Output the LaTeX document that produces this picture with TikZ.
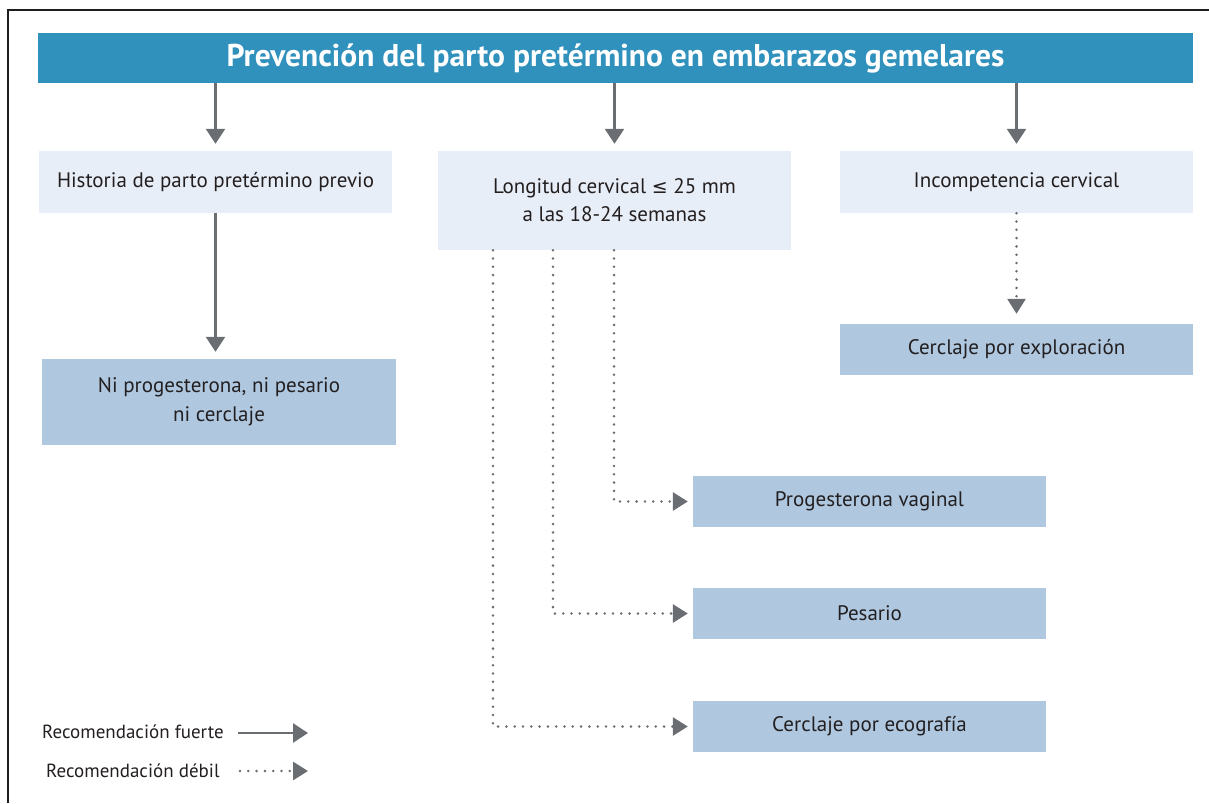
\documentclass[tikz,border=0pt]{standalone}
\usepackage{fontspec}
\setmainfont{PT Sans}
\newfontfamily\symbolfont{DejaVu Sans}
\usetikzlibrary{arrows.meta,positioning}
\usepackage{xcolor}
\definecolor{titleblue}{HTML}{2F91BC}
\definecolor{boxlight}{HTML}{E8EEF7}
\definecolor{boxdark}{HTML}{AFC8E0}
\definecolor{arrowgray}{HTML}{6A6D71}
\definecolor{textdark}{HTML}{231F20}
\definecolor{framedark}{HTML}{1E1E1E}

\begin{document}
\begin{tikzpicture}[x=1pt,y=-1pt]
                \tikzstyle{header} = [fill=titleblue, text=white, font=\fontsize{31.5}{36}\selectfont\bfseries, minimum width=1155pt, minimum height=50pt, inner sep=0pt];
                \tikzstyle{condition} = [fill=boxlight, text=textdark, font=\fontsize{21}{28}\selectfont, minimum width=353pt, align=center, inner sep=0pt];
                \tikzstyle{treatment} = [fill=boxdark, text=textdark, font=\fontsize{21}{29}\selectfont, minimum width=353pt, minimum height=51pt, align=center, inner sep=0pt];
                \tikzstyle{keytext} = [text=textdark, font=\fontsize{19}{22}\selectfont, inner sep=0pt, anchor=west];
                \tikzstyle{strongarrow} = [-{Triangle[length=15pt,width=19pt]}, line width=2.6pt, color=arrowgray];
                \tikzstyle{weakarrow} = [-{Triangle[length=15pt,width=18pt]}, line width=2.8pt, color=arrowgray, line cap=round, dash pattern=on 0pt off 8.3pt];

                \useasboundingbox (0,0) rectangle (1209,803);
                \draw[line width=1.5pt, color=framedark] (8,803) -- (8,10) -- (1209,10);

                \node[header](title) at (615.5,58) {Prevención del parto pretérmino en embarazos gemelares};

                \node[condition, minimum height=62pt](hist) at (215.5,182) {Historia de parto pretérmino previo};
                \node[condition, minimum height=99pt](long) at (614.5,200.5) {Longitud cervical {\symbolfont\fontsize{19}{28}\selectfont ≤} 25 mm\\a las 18-24 semanas};
                \node[condition, minimum height=62pt](incomp) at (1016.5,182) {Incompetencia cervical};

                \node[treatment, minimum width=354pt, minimum height=86pt](ni) at (219,402) {Ni progesterona, ni pesario\\ni cerclaje};
                \node[treatment](cerexp) at (1016.5,349.5) {Cerclaje por exploración};
                \node[treatment](prog) at (869.5,501.5) {Progesterona vaginal};
                \node[treatment](pes) at (869.5,613.5) {Pesario};
                \node[treatment](cereco) at (869.5,726.5) {Cerclaje por ecografía};

                \node[keytext](strongkey) at (42,732) {Recomendación fuerte};
                \node[keytext](weakkey) at (46,771) {Recomendación débil};
                \coordinate (strongfrom) at (238,733);
                \coordinate (strongto) at (308,733);
                \coordinate (weakfrom) at (240,771);
                \coordinate (weakto) at (308,771);

                \draw[strongarrow, shorten >=7pt] (title.south -| hist) -- (hist.north);
                \draw[strongarrow, shorten >=7pt] (title.south -| long) -- (long.north);
                \draw[strongarrow, shorten >=7pt] (title.south -| incomp) -- (incomp.north);
                \draw[strongarrow, shorten >=7pt] (hist.south) -- (hist.south |- ni.north);

                \draw[weakarrow, shorten >=10pt] (incomp.south) -- (cerexp.north);
                \draw[weakarrow, shorten >=5pt] ([xshift=-0.5pt]long.south) |- (prog.west);
                \draw[weakarrow, shorten >=5pt] ([xshift=-61.5pt]long.south) |- (pes.west);
                \draw[weakarrow, shorten >=5pt] ([xshift=-121.5pt]long.south) |- (cereco.west);

                \draw[strongarrow] (strongfrom) -- (strongto);
                \draw[weakarrow] (weakfrom) -- (weakto);
            \end{tikzpicture}
\end{document}
